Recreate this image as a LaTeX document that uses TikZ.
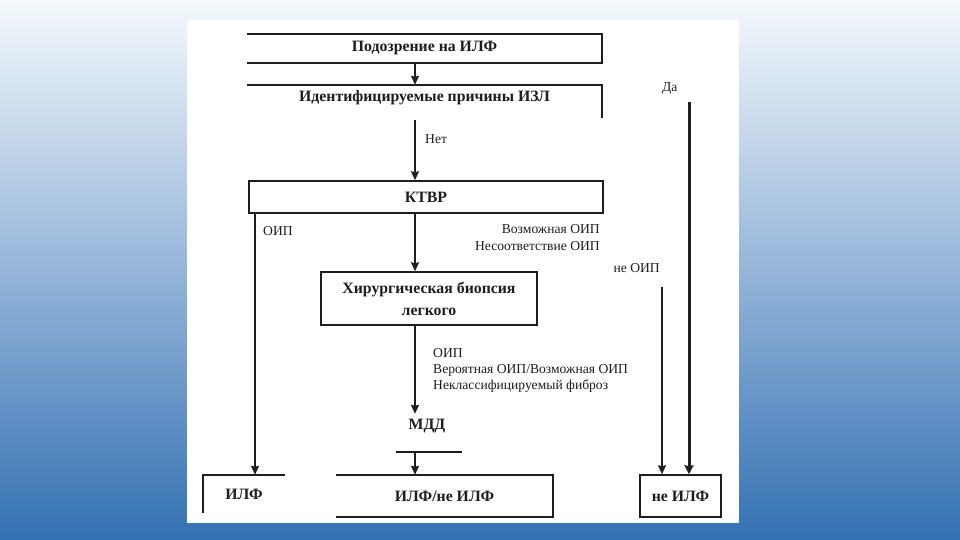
\documentclass[tikz,border=0pt]{standalone}
\usepackage{fontspec}
\setmainfont{Liberation Serif}
\usetikzlibrary{arrows.meta}
\definecolor{bgtop}{HTML}{F5F9FD}
\definecolor{bgmid}{HTML}{B0CCE9}
\definecolor{bgbot}{HTML}{3471B3}
\definecolor{ink}{HTML}{1E1E1E}
\begin{document}
\begin{tikzpicture}[x=1pt,y=-1pt,
  boxtext/.style={font=\bfseries\fontsize{15.8}{22}\selectfont, inner sep=0pt, align=center, text=ink},
  lbl/.style={font=\fontsize{13.6}{15}\selectfont, inner sep=0pt, text=ink},
  ln/.style={line width=1.5pt, ink},
  arr/.style={ln, -{Stealth[length=9pt,width=8pt,inset=1pt]}},
  ]
\useasboundingbox (0,0) rectangle (960,540);
\shade[top color=bgtop, middle color=bgmid, bottom color=bgbot] (0,0) rectangle (960,540);
\fill[white] (187,20) rectangle (739,523);

% boxes
\node[boxtext, minimum width=355pt, minimum height=29pt] (b1) at (424.5,48.5) {Подозрение на ИЛФ};
\node[boxtext, minimum width=355pt, minimum height=33pt] (b2) at (424.5,101.5) {};
\node[boxtext] (b2t) at (424.5,98) {Идентифицируемые причины ИЗЛ};
\node[boxtext, draw=ink, line width=1.5pt, minimum width=354pt, minimum height=32pt] (ktbp) at (426,197) {КТВР};
\node[boxtext, draw=ink, line width=1.5pt, minimum width=216pt, minimum height=53pt] (bio) at (429,298.5) {Хирургическая биопсия\\легкого};
\node[boxtext, inner sep=0pt, minimum height=24pt] (mdd) at (427,426) {МДД};
\node[boxtext, minimum width=82pt, minimum height=38pt] (ilf) at (244,494) {ИЛФ};
\node[boxtext, minimum width=217pt, minimum height=42pt] (res) at (444.5,496) {ИЛФ/не ИЛФ};
\node[boxtext, draw=ink, line width=1.5pt, minimum width=81pt, minimum height=42pt] (nilf) at (680.5,496) {не ИЛФ};

% partial borders
\draw[ln] (b1.north west) -- (b1.north east) -- (b1.south east) -- (b1.south west);
\draw[ln] (b2.north west) -- (b2.north east) -- (b2.south east);
\draw[ln] (ilf.south west) -- (ilf.north west) -- (ilf.north east);
\draw[ln] (res.north west) -- (res.north east) -- (res.south east) -- (res.south west);

% labels
\node[lbl, anchor=west] (net) at (425,139) {Нет};
\node[lbl, anchor=west] (da) at (662,88) {Да};
\node[lbl, anchor=west] (oip1) at (263,231) {ОИП};
\node[lbl, anchor=east] (voz) at (600,229) {Возможная ОИП};
\node[lbl, anchor=east] (nes) at (600,246) {Несоответствие ОИП};
\node[lbl, anchor=east] (neoip) at (660,268) {не ОИП};
\node[lbl, anchor=west] (oip2) at (433,353) {ОИП};
\node[lbl, anchor=west] (ver) at (433,370) {Вероятная ОИП/Возможная ОИП};
\node[lbl, anchor=west] (nekl) at (433,386) {Неклассифицируемый фиброз};

% coordinates for connector columns
\coordinate (cx) at (415,0);
\coordinate (lx) at (255,0);
\coordinate (nx) at (662,287);
\coordinate (dx) at (689,102);
\coordinate (mddl) at (396,452);
\coordinate (mddr) at (462,452);
\coordinate (mddc) at (415,452);

% connectors
\draw[arr] (b1.south -| cx) -- (b2.north -| cx);
\draw[arr] (cx |- 0,120) -- (ktbp.north -| cx);
\draw[arr] (ktbp.south -| cx) -- (bio.north -| cx);
\draw[arr] (bio.south -| cx) -- (mdd.north -| cx);
\draw[ln] (mddl) -- (mddr);
\draw[arr] (mddc) -- (res.north -| cx);
\draw[arr] (ktbp.south -| lx) -- (ilf.north -| lx);
\draw[arr] (nx) -- (nilf.north -| nx);
\draw[ln, line width=3pt, -{Stealth[length=9pt,width=9pt,inset=1pt]}] (dx) -- (nilf.north -| dx);
\end{tikzpicture}
\end{document}
